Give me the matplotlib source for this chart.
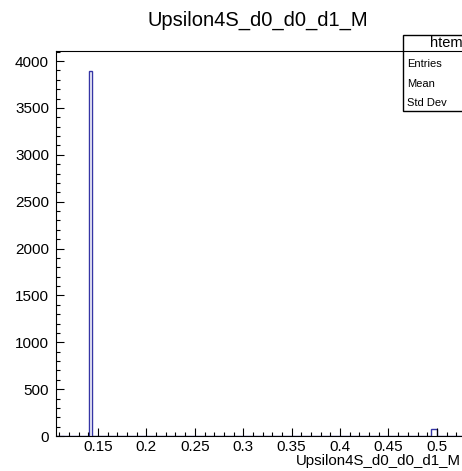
import numpy as np
import matplotlib
matplotlib.use("Agg")
import matplotlib.pyplot as plt
from matplotlib.ticker import MultipleLocator, FixedLocator, FixedFormatter

# ---- data ----
bin_start = 0.1066
bin_width = 0.0031
counts = [0]*11 + [3890] + [0]*113 + [80, 80] + [0]*20
x_ticks = [0.15, 0.2, 0.25, 0.3, 0.35, 0.4, 0.45, 0.5]
x_tick_labels = ["0.15", "0.2", "0.25", "0.3", "0.35", "0.4", "0.45", "0.5"]
y_ticks = [0, 500, 1000, 1500, 2000, 2500, 3000, 3500, 4000]
y_tick_labels = ["0", "500", "1000", "1500", "2000", "2500", "3000", "3500", "4000"]
title = "Upsilon4S_d0_d0_d1_M"
xlabel = "Upsilon4S_d0_d0_d1_M"
stats_name = "htemp"
stats_rows = ["Entries", "Mean", "Std Dev"]

plt.rcParams['font.family'] = ['Liberation Sans', 'DejaVu Sans']

W, H = 462, 471
fig = plt.figure(figsize=(W/100, H/100), dpi=100)
ax_l, ax_r, ax_t, ax_b = 56, 495, 51, 436
ax = fig.add_axes([ax_l/W, 1-ax_b/H, (ax_r-ax_l)/W, (ax_b-ax_t)/H])

edges = bin_start + bin_width*np.arange(len(counts)+1)
ax.stairs(counts, edges, color='#3535a5', linewidth=1.0)

ax.set_xlim(bin_start, 0.56)
ax.set_ylim(0, 4107)

ax.xaxis.set_major_locator(FixedLocator(x_ticks))
ax.xaxis.set_major_formatter(FixedFormatter(x_tick_labels))
ax.xaxis.set_minor_locator(MultipleLocator(0.01))
ax.yaxis.set_major_locator(FixedLocator(y_ticks))
ax.yaxis.set_major_formatter(FixedFormatter(y_tick_labels))
ax.yaxis.set_minor_locator(MultipleLocator(100))

ax.tick_params(which='both', direction='in', top=False, right=False, labelsize=11, width=0.8, color='black')
ax.tick_params(axis='x', which='major', length=6, pad=3)
ax.tick_params(axis='y', which='major', length=6, pad=5)
ax.tick_params(which='minor', length=3)
for s in ax.spines.values():
    s.set_linewidth(0.8)

fig.text(258/W, 1-20/H, title, ha='center', va='center', fontsize=14.5)
fig.text(461/W, 1-461/H, xlabel, ha='right', va='center', fontsize=10.8)

# stats box
bx0, by0, bx1, by1 = 403, 35, 520, 111
sep = 51
box = plt.Rectangle((bx0/W, 1-by1/H), (bx1-bx0)/W, (by1-by0)/H, transform=fig.transFigure,
                    facecolor='white', edgecolor='black', linewidth=1.0, zorder=5)
fig.add_artist(box)
fig.add_artist(plt.Line2D([bx0/W, bx1/W], [1-sep/H, 1-sep/H], transform=fig.transFigure,
                          color='black', linewidth=0.8, zorder=6))
fig.text(430/W, 1-43/H, stats_name, ha='left', va='center', fontsize=10.5, zorder=7)
row_y = [64, 84, 103]
for r, yy in zip(stats_rows, row_y):
    fig.text(407/W, 1-yy/H, r, ha='left', va='center', fontsize=8, zorder=7)

fig.savefig("out.png", dpi=100)
